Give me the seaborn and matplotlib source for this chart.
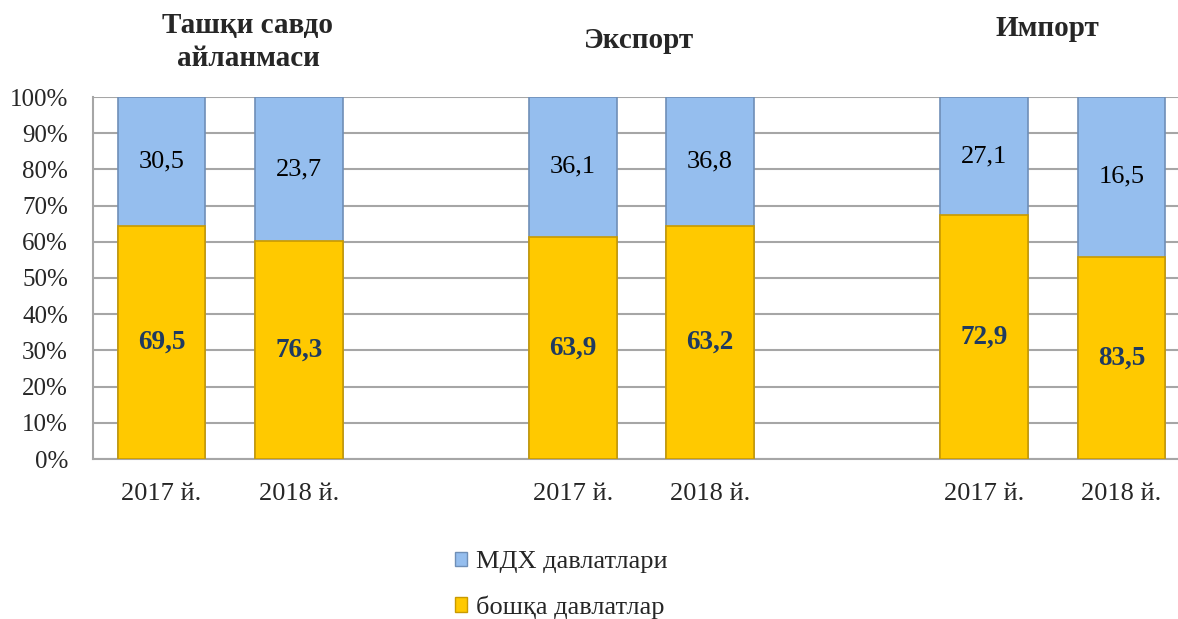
import matplotlib
matplotlib.use("Agg")
import matplotlib.pyplot as plt
import matplotlib.transforms as mtransforms
from matplotlib.patches import Patch
import seaborn as sns
import pandas as pd

# ---- data ----
groups = ["Ташқи савдо\nайланмаси", "Экспорт", "Импорт"]
years = ["2017 й.", "2018 й."]
# drawn height of the "other countries" segment (share, %)
other_height = [64.4, 60.2, 61.4, 64.4, 67.4, 55.9]
# printed labels
other_labels = [69.5, 76.3, 63.9, 63.2, 72.9, 83.5]
cis_labels = [30.5, 23.7, 36.1, 36.8, 27.1, 16.5]
series_names = ["МДХ давлатлари", "бошқа давлатлар"]
ytick_labels = ["0%", "10%", "20%", "30%", "40%", "50%", "60%", "70%", "80%", "90%", "100%"]

# ---- build frame ----
keys, ticklabels, order = [], [], []
for g_idx, g in enumerate(groups):
    for y in years:
        k = f"{g_idx}-{y}"
        keys.append(k)
        order.append(k)
        ticklabels.append(y)
    if g_idx < len(groups) - 1:
        order.append(" " * (g_idx + 1))
        ticklabels.append("")

df = pd.DataFrame({
    "key": keys,
    "total": [100.0] * len(keys),
    "other": other_height,
    "other_lab": other_labels,
    "cis_lab": cis_labels,
})

sns.set_theme(style="white")
plt.rcParams["font.family"] = ["Liberation Serif", "DejaVu Serif"]

BLUE = "#95BEEE"
BLUE_EDGE = "#6F8FB7"
YELLOW = "#FFC900"
YELLOW_EDGE = "#C99A00"
NAVY = "#1F3A60"

fig = plt.figure(figsize=(11.78, 6.19), dpi=100)
ax = fig.add_axes([93 / 1178, 1 - 459 / 619, (1190 - 93) / 1178, (459 - 97) / 619])

sns.barplot(data=df, x="key", y="total", order=order, color=BLUE, width=0.64,
            edgecolor=BLUE_EDGE, linewidth=1.2, saturation=1, ax=ax, zorder=3)
sns.barplot(data=df, x="key", y="other", order=order, color=YELLOW, width=0.64,
            edgecolor=YELLOW_EDGE, linewidth=1.2, saturation=1, ax=ax, zorder=4)

ax.set_ylim(0, 100)
ax.set_xlim(-0.5, len(order) - 0.5)
ax.set_yticks(range(0, 101, 10))
ax.set_yticklabels(ytick_labels, fontsize=18)
ax.set_xticks(range(len(order)))
ax.set_xticklabels(ticklabels, fontsize=19)
ax.set_xlabel("")
ax.set_ylabel("")
ax.tick_params(axis="y", length=0, pad=18)
ax.tick_params(axis="x", length=0, pad=17)
ax.yaxis.grid(True, color="#A6A6A6", linewidth=1.5, zorder=0)
ax.set_axisbelow(True)
for s in ["top", "right"]:
    ax.spines[s].set_visible(False)
for s in ["left", "bottom"]:
    ax.spines[s].set_color("#A6A6A6")
    ax.spines[s].set_linewidth(1.5)

# value labels
fmt = lambda v: f"{v:.1f}".replace(".", ",")
for _, r in df.iterrows():
    pos = order.index(r["key"])
    ax.text(pos, r["other"] / 2, fmt(r["other_lab"]), ha="center", va="center",
            fontsize=19.5, fontweight="bold", color=NAVY, zorder=6)
    ax.text(pos, (100 + r["other"]) / 2, fmt(r["cis_lab"]), ha="center", va="center",
            fontsize=19, color="black", zorder=6)

# group titles
trans = mtransforms.blended_transform_factory(ax.transData, fig.transFigure)
title_x = [0.63, 3.48, 6.46]
title_y = [1 - 42 / 619, 1 - 40 / 619, 1 - 28 / 619]
for g, tx, ty in zip(groups, title_x, title_y):
    ax.text(tx, ty, g, transform=trans, ha="center", va="center", fontsize=21,
            fontweight="bold", linespacing=1.3)

# legend
handles = [Patch(facecolor=BLUE, edgecolor=BLUE_EDGE),
           Patch(facecolor=YELLOW, edgecolor=YELLOW_EDGE)]
fig.legend(handles, series_names, loc="center", bbox_to_anchor=(0.4766, 1 - 585 / 619),
           frameon=False, fontsize=19, handlelength=0.45, handleheight=0.45,
           handletextpad=0.35, labelspacing=0.85, borderpad=0)

fig.savefig("out.png", dpi=100)
